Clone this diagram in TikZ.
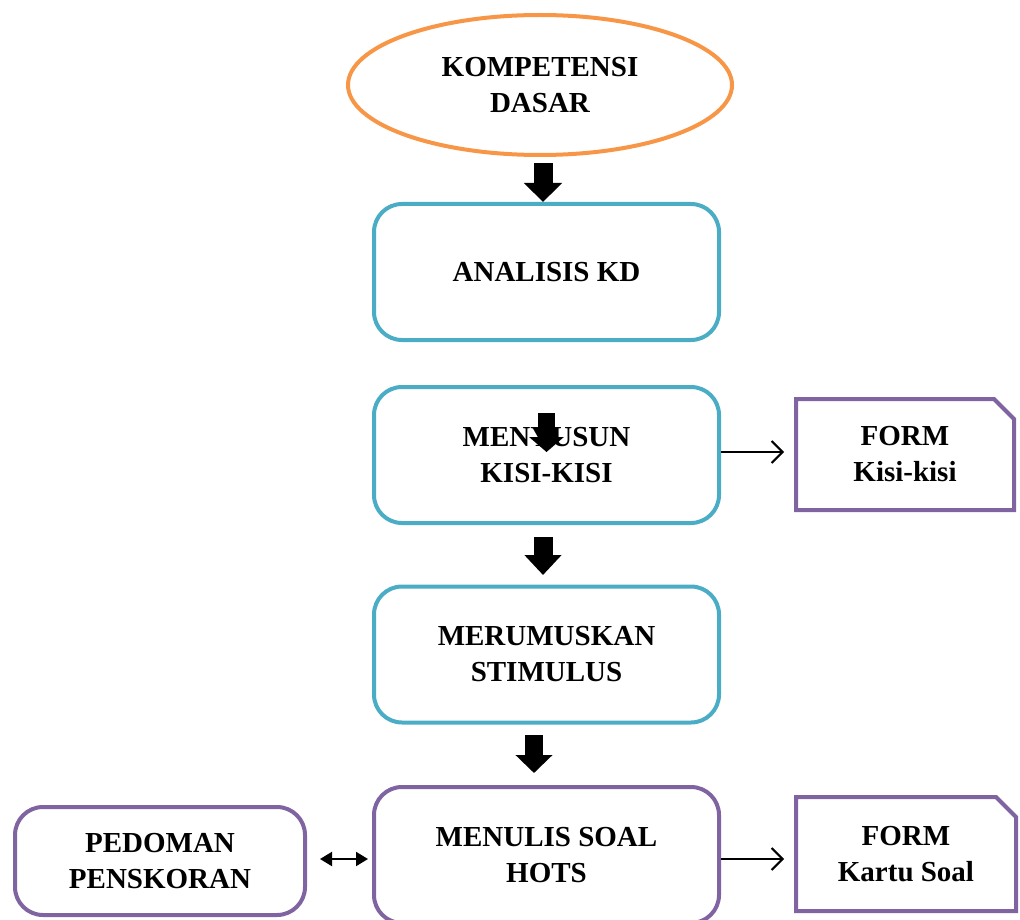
\documentclass[tikz,border=0pt]{standalone}
\usepackage{fontspec}
\setmainfont{Liberation Serif}
\usetikzlibrary{shapes.geometric,shapes.misc,arrows.meta}
\definecolor{orangeC}{HTML}{F79646}
\definecolor{blueC}{HTML}{4BACC6}
\definecolor{purpleC}{HTML}{8064A2}
\begin{document}
\begin{tikzpicture}[x=1pt,y=-1pt,
  txt/.style={font=\fontsize{29}{36}\selectfont\bfseries, align=center, text=black, inner sep=0pt},
  bluebox/.style={txt, draw=blueC, line width=4pt, rounded corners=28pt, minimum width=345pt, minimum height=136pt},
  purplebox/.style={txt, draw=purpleC, line width=4pt, rounded corners=28pt},
  formbox/.style={txt, draw=purpleC, line width=4pt, chamfered rectangle, chamfered rectangle corners=north east, chamfered rectangle xsep=10pt, chamfered rectangle ysep=10pt, minimum width=218pt},
  blockarrow/.style={draw=black, line width=#1},
  thinarrow/.style={draw=black, line width=2pt, -{Straight Barb[length=11pt,width=22pt,line width=2pt]}},
  dblarrow/.style={draw=black, line width=2pt, {Triangle[length=12pt,width=14pt]}-{Triangle[length=12pt,width=14pt]}}
]
\useasboundingbox (0,0) rectangle (1020,920);
\clip (0,0) rectangle (1020,920);

\node[txt, ellipse, draw=orangeC, line width=4pt, minimum width=384pt, minimum height=140pt] (kd) at (540,85) {KOMPETENSI\\DASAR};
\node[bluebox] (ana) at (546.5,272) {ANALISIS KD};
\node[bluebox] (kisi) at (546.5,455) {MENYUSUN\\KISI-KISI};
\node[bluebox] (stim) at (546.5,654.5) {MERUMUSKAN\\STIMULUS};
\node[purplebox, minimum width=345pt, minimum height=136pt] (hots) at (546.5,855) {MENULIS SOAL\\HOTS};
\node[purplebox, minimum width=290pt, minimum height=108pt] (ped) at (160,861) {PEDOMAN\\PENSKORAN};
\node[formbox, minimum height=111pt] (f1) at (905,454.5) {FORM\\Kisi-kisi};
\node[formbox, minimum width=220pt, minimum height=114pt] (f2) at (906,854) {FORM\\Kartu Soal};

% block arrows
\coordinate (a1s) at (543,163); \coordinate (a1e) at (543,202);
\coordinate (a2s) at (546.5,413); \coordinate (a2e) at (546.5,452);
\coordinate (a3s) at (543,537); \coordinate (a3e) at (543,575);
\coordinate (a4s) at (534,735); \coordinate (a4e) at (534,773);
\draw[blockarrow=19pt, -{Triangle[length=19pt,width=37pt]}] (a1s) -- (a1e);
\draw[blockarrow=17pt, -{Triangle[length=15pt,width=34pt]}] (a2s) -- (a2e);
\draw[blockarrow=19pt, -{Triangle[length=20pt,width=36pt]}] (a3s) -- (a3e);
\draw[blockarrow=18pt, -{Triangle[length=18pt,width=36pt]}] (a4s) -- (a4e);

% thin arrows
\coordinate (t1e) at (784,452);
\coordinate (t2e) at (784,859);
\draw[thinarrow] (kisi.east |- t1e) -- (t1e);
\draw[thinarrow] (hots.east |- t2e) -- (t2e);
\coordinate (d1) at (320,859); \coordinate (d2) at (368,859);
\draw[dblarrow] (d1) -- (d2);
\end{tikzpicture}
\end{document}
